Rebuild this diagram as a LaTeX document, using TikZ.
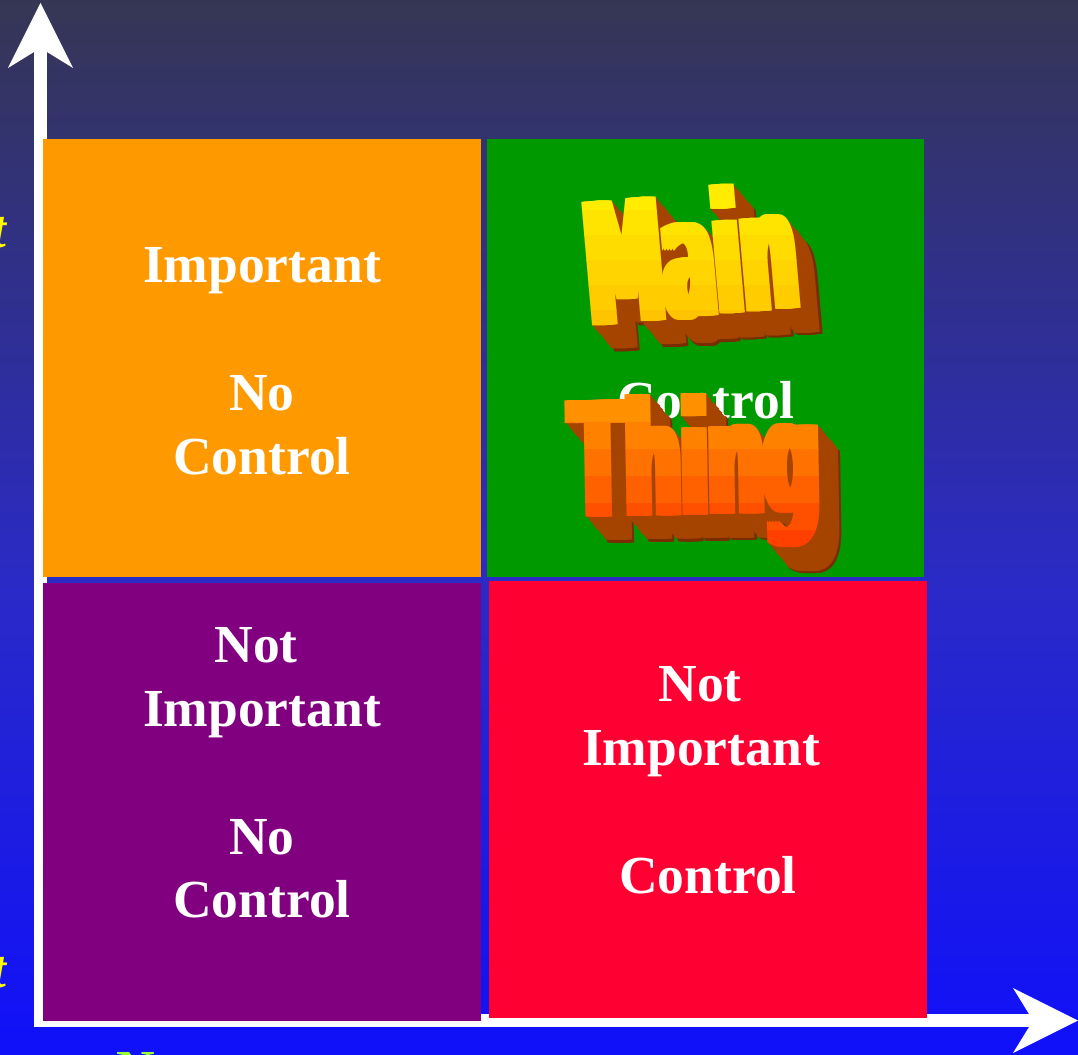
\documentclass[tikz,border=0pt]{standalone}
\usepackage{fontspec}
\setmainfont{Liberation Serif}
\newfontfamily\artfont{DejaVu Sans}
\definecolor{bgtop}{RGB}{54,54,84}
\definecolor{bgmidA}{RGB}{48,48,138}
\definecolor{bgmidB}{RGB}{42,42,200}
\definecolor{bgbot}{RGB}{16,16,250}
\definecolor{qorange}{RGB}{255,153,0}
\definecolor{qgreen}{RGB}{0,153,0}
\definecolor{qpurple}{RGB}{128,0,128}
\definecolor{qred}{RGB}{255,0,51}
\definecolor{extr}{RGB}{165,68,0}
\definecolor{extrdark}{RGB}{120,45,0}
\definecolor{maintop}{RGB}{255,236,0}
\definecolor{mainbot}{RGB}{255,196,0}
\definecolor{thingtop}{RGB}{255,145,0}
\definecolor{thingbot}{RGB}{255,64,0}
\definecolor{limegr}{RGB}{153,255,51}
\definecolor{ylab}{RGB}{255,255,0}
\pgfdeclareverticalshading{bgshade}{100bp}{color(0bp)=(bgbot); color(25bp)=(bgbot); color(47bp)=(bgmidB); color(62bp)=(bgmidA); color(75bp)=(bgtop); color(100bp)=(bgtop)}
\begin{document}
\begin{tikzpicture}[x=1pt,y=-1pt,
  cell/.style={inner sep=0pt, outer sep=0pt, draw=none},
  lbl/.style={text=white, font=\bfseries\fontsize{53.5}{64}\selectfont, anchor=base, inner sep=0pt},
  art/.style={font=\artfont\bfseries\fontsize{#1}{#1}\selectfont, inner sep=0pt, anchor=base},
  axisline/.style={draw=white, line width=13pt, line join=miter}]
\useasboundingbox (0,0) rectangle (1078,1054);
\clip (0,0) rectangle (1078,1054);
\shade[shading=bgshade] (0,0) rectangle (1078,1054);

% axes
\coordinate (O) at (40.5,1020.5);
\coordinate (ynotch) at (40.5,48);
\coordinate (ytip) at (40.5,3);
\coordinate (yl) at (8,68);
\coordinate (yr) at (73,68);
\coordinate (xnotch) at (1033,1020.5);
\coordinate (xtip) at (1078,1020.5);
\coordinate (xu) at (1013,988);
\coordinate (xd) at (1013,1053);
\draw[axisline] (ynotch) -- (O) -- (xnotch);
\fill[white] (ytip) -- (yr) -- (ynotch) -- (yl) -- cycle;
\fill[white] (xtip) -- (xd) -- (xnotch) -- (xu) -- cycle;

% cells
\node[cell, fill=qorange, minimum width=438pt, minimum height=438pt] (orangecell) at (262,358) {};
\node[cell, fill=qgreen, minimum width=437pt, minimum height=438pt] (greencell) at (705.5,358) {};
\node[cell, fill=qpurple, minimum width=438pt, minimum height=438pt] (purplecell) at (262,802) {};
\node[cell, fill=qred, minimum width=438pt, minimum height=437pt] (redcell) at (708,799.5) {};

% labels
\node[lbl] (oimp) at (262,282) {Important};
\node[lbl] (ono) at (262,410) {No};
\node[lbl] (octl) at (262,474) {Control};
\node[lbl] (gctl) at (706,418) {Control};
\node[lbl] (pnot) at (256,662) {Not};
\node[lbl] (pimp) at (262,726) {Important};
\node[lbl] (pno) at (262,854) {No};
\node[lbl] (pctl) at (262,917) {Control};
\node[lbl] (rnot) at (700,701) {Not};
\node[lbl] (rimp) at (701,765) {Important};
\node[lbl] (rctl) at (708,893) {Control};

% partial labels at the edges
\node[lbl, text=ylab, font=\bfseries\itshape\fontsize{53.5}{64}\selectfont, anchor=base east] (tlabA) at (7,247) {t};
\node[lbl, text=ylab, font=\bfseries\itshape\fontsize{53.5}{64}\selectfont, anchor=base east] (tlabB) at (7,987) {t};
\node[lbl, text=limegr, anchor=base west] (nlab) at (116,1087) {N};

% word art "Main"
\foreach \k in {20,19,...,1}{
  \ifnum\k>18 \def\ec{extrdark}\else\def\ec{extr}\fi
  \foreach \s [count=\j] in {-6,-4.5,...,6}{
    \node[art=170, text=\ec, rotate=5, xscale=0.454] (mainext\k x\j) at ({696+1.1*\k+\s},{317+1.3*\k}) {Main};
  }
}
\foreach \b in {0,...,5}{
  \pgfmathsetmacro\ya{\b==0 ? 150 : 185+25*\b}
  \pgfmathsetmacro\yb{\b==5 ? 360 : 210+25*\b}
  \pgfmathtruncatemacro\p{100-20*\b}
  \begin{scope}
    \clip (550,\ya) rectangle (880,\yb);
    \foreach \s [count=\j] in {-6,-4.5,...,6}{
      \node[art=170, text=maintop!\p!mainbot, rotate=5, xscale=0.454] (mainfront\b x\j) at ({696+\s},317) {Main};
    }
  \end{scope}
}

% word art "Thing"
\foreach \k in {20,19,...,1}{
  \ifnum\k>18 \def\ec{extrdark}\else\def\ec{extr}\fi
  \foreach \s [count=\j] in {-6,-4.5,...,6}{
    \node[art=160, text=\ec, rotate=1, xscale=0.49] (thingext\k x\j) at ({697+1.1*\k+\s},{515+1.3*\k}) {Thing};
  }
}
\foreach \b in {0,...,5}{
  \pgfmathsetmacro\ya{\b==0 ? 360 : 395+27*\b}
  \pgfmathsetmacro\yb{\b==5 ? 600 : 422+27*\b}
  \pgfmathtruncatemacro\p{100-20*\b}
  \begin{scope}
    \clip (540,\ya) rectangle (900,\yb);
    \foreach \s [count=\j] in {-6,-4.5,...,6}{
      \node[art=160, text=thingtop!\p!thingbot, rotate=1, xscale=0.49] (thingfront\b x\j) at ({697+\s},515) {Thing};
    }
  \end{scope}
}
\end{tikzpicture}
\end{document}
